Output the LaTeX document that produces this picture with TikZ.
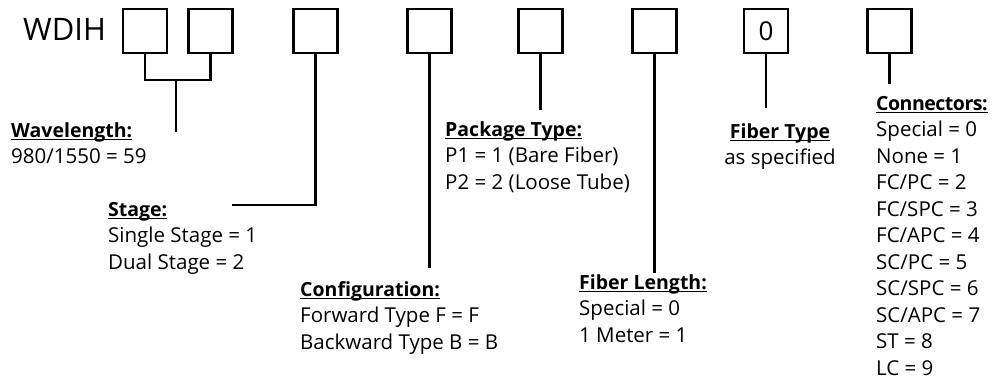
\documentclass[tikz,border=0pt]{standalone}
\usepackage{fontspec}
\setmainfont{Open Sans}
\newcommand{\ulhead}[1]{\setbox0\hbox{\fontsize{19.5}{26.5}\selectfont\bfseries #1}\rlap{\rule[-3pt]{\wd0}{1.3pt}}\box0}
\begin{document}
\begin{tikzpicture}[x=1pt,y=-1pt,line width=2.4pt,
    code box/.style={draw,line width=2.4pt,minimum size=44pt,inner sep=0pt,font=\fontsize{26}{26}\selectfont},
    legend/.style={anchor=base west,inner sep=0pt,font=\fontsize{20.5}{26.5}\selectfont}]
    \useasboundingbox (0,0) rectangle (993,383);

    \node[font=\fontsize{31}{31}\selectfont,anchor=base,inner sep=0pt] at (64.5,40) (wdih) {WDIH};
    \node[code box] at (145,31) (b1) {};
    \node[code box] at (210.5,31) (b2) {};
    \node[code box] at (315.5,31) (b3) {};
    \node[code box] at (429.5,31) (b4) {};
    \node[code box] at (540.5,31) (b5) {};
    \node[code box] at (654.5,31) (b6) {};
    \node[code box] at (766,31) (b7) {0};
    \node[code box] at (889.5,31) (b8) {};

    \coordinate (j1) at (176,80);
    \coordinate (wl end) at (176,132);
    \coordinate (st end) at (232,205);
    \coordinate (cf end) at (429.5,268);
    \coordinate (pk end) at (540.5,110);
    \coordinate (fl end) at (654.5,273);
    \coordinate (ft end) at (766,108);
    \coordinate (cn end) at (889.5,84);

    \draw (b1.south) |- (j1) -| (b2.south);
    \draw (j1) -- (wl end);
    \draw (b3.south) |- (st end);
    \draw (b4.south) -- (cf end);
    \draw (b5.south) -- (pk end);
    \draw (b6.south) -- (fl end);
    \draw (b7.south) -- (ft end);
    \draw (b8.south) -- (cn end);

    \node[legend] at (10,137) (wl) {\begin{tabular}[t]{@{}l@{}}\ulhead{Wavelength:}\\980/1550 = 59\end{tabular}};
    \node[legend] at (107,216) (st) {\begin{tabular}[t]{@{}l@{}}\ulhead{Stage:}\\Single Stage = 1\\Dual Stage = 2\end{tabular}};
    \node[legend] at (299,296) (cf) {\begin{tabular}[t]{@{}l@{}}\ulhead{Configuration:}\\Forward Type F = F\\Backward Type B = B\end{tabular}};
    \node[legend] at (444,136) (pk) {\begin{tabular}[t]{@{}l@{}}\ulhead{Package Type:}\\P1 = 1 (Bare Fiber)\\P2 = 2 (Loose Tube)\end{tabular}};
    \node[legend] at (578,289) (fl) {\begin{tabular}[t]{@{}l@{}}\ulhead{Fiber Length:}\\Special = 0\\1 Meter = 1\end{tabular}};
    \node[legend,anchor=base] at (780,138) (ft) {\begin{tabular}[t]{@{}c@{}}\ulhead{Fiber Type}\\as specified\end{tabular}};
    \node[legend] at (875,110) (cn) {\begin{tabular}[t]{@{}l@{}}\ulhead{\addfontfeature{LetterSpace=-2.5}Connectors:}\\Special = 0\\None = 1\\FC/PC = 2\\FC/SPC = 3\\FC/APC = 4\\SC/PC = 5\\SC/SPC = 6\\SC/APC = 7\\ST = 8\\LC = 9\end{tabular}};
\end{tikzpicture}
\end{document}
